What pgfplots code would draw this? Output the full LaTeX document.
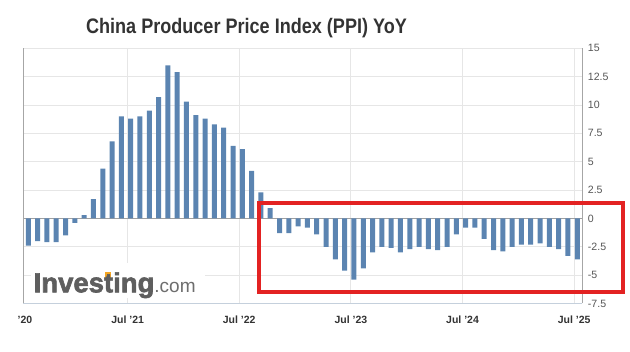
\documentclass[border=0pt]{standalone}
\usepackage{pgfplots}
\pgfplotsset{compat=1.18}
\usepackage{fontspec}
\setmainfont{Liberation Sans}
\newfontfamily\logofont[BoldFeatures={FakeBold=2.2}]{Liberation Sans}
\definecolor{barblue}{HTML}{5B84B1}
\definecolor{gridc}{HTML}{E6E6E6}
\definecolor{axgray}{HTML}{A6A6A6}
\definecolor{botline}{HTML}{C5D0DC}
\definecolor{zeroc}{HTML}{A0A0A0}
\definecolor{titlec}{HTML}{333333}
\definecolor{ytc}{HTML}{555555}
\definecolor{boxred}{HTML}{E32222}
\definecolor{logogray}{HTML}{5E5E5E}
\definecolor{comgray}{HTML}{6E6E6E}
\definecolor{logoorange}{HTML}{F5A623}
\begin{document}
\begin{tikzpicture}[x=1pt,y=1pt]
\useasboundingbox (0,0) rectangle (630,352);
\begin{axis}[
  at={(23.3pt,48.5pt)}, anchor=south west,
  scale only axis, width=558.7pt, height=255.2pt,
  xmin=-0.54, xmax=59.51, ymin=-7.5, ymax=15,
  axis line style={draw=none},
  xtick={10.67,22.67,34.67,46.67,58.67},
  xticklabels={Jul '21,Jul '22,Jul '23,Jul '24,Jul '25},
  ytick={-7.5,-5,-2.5,0,2.5,5,7.5,10,12.5,15},
  yticklabels={-7.5,-5,-2.5,0,2.5,5,7.5,10,12.5,15},
  yticklabel pos=right,
  major tick length=0pt,
  xmajorgrids, ymajorgrids,
  grid style={gridc, line width=0.8pt},
  xticklabel style={anchor=base, yshift=-20.5pt, inner sep=0pt, font=\bfseries\fontsize{10.5}{10.5}\selectfont, text=titlec},
  yticklabel style={anchor=west, xshift=5.7pt, inner sep=0pt, font=\fontsize{10.6}{10.6}\selectfont, text=ytc},
  clip=false,
]
\draw[zeroc, line width=0.9pt] (axis cs:-0.54,0) -- (axis cs:59.51,0);
\addplot[ybar, bar width=5pt, bar shift=0pt, fill=barblue, draw=none] coordinates {
(0,-2.4) (1,-2.0) (2,-2.1) (3,-2.1) (4,-1.5) (5,-0.4)
(6,0.3) (7,1.7) (8,4.4) (9,6.8) (10,9.0) (11,8.8) (12,9.0) (13,9.5) (14,10.7) (15,13.5) (16,12.9) (17,10.3)
(18,9.1) (19,8.8) (20,8.3) (21,8.0) (22,6.4) (23,6.1) (24,4.2) (25,2.3) (26,0.9) (27,-1.3) (28,-1.3) (29,-0.7)
(30,-0.8) (31,-1.4) (32,-2.5) (33,-3.6) (34,-4.6) (35,-5.4) (36,-4.4) (37,-3.0) (38,-2.5) (39,-2.6) (40,-3.0) (41,-2.7)
(42,-2.5) (43,-2.7) (44,-2.8) (45,-2.5) (46,-1.4) (47,-0.8) (48,-0.8) (49,-1.8) (50,-2.8) (51,-2.9) (52,-2.5) (53,-2.3)
(54,-2.3) (55,-2.2) (56,-2.5) (57,-2.7) (58,-3.3) (59,-3.6)
};
\draw[axgray, line width=0.9pt] (rel axis cs:0,0) -- (rel axis cs:0,1);
\draw[axgray, line width=0.9pt] (rel axis cs:1,0) -- (rel axis cs:1,1);
\draw[botline, line width=0.9pt] (rel axis cs:0,0) -- (rel axis cs:1,0);
\node[anchor=base, inner sep=0pt, font=\bfseries\fontsize{10.5}{10.5}\selectfont, text=titlec] at ([yshift=-20.5pt]axis cs:-1.33,-7.5) {\phantom{Jul }'20};
\end{axis}
% title
\node[anchor=base, inner sep=0pt, text=titlec, font=\bfseries\fontsize{21}{21}\selectfont] at (246.5,318.5) {\scalebox{0.86}[1]{China Producer Price Index (PPI) YoY}};
% watermark
\fill[white] (31,54) rectangle (205,89);
\node[anchor=base west, inner sep=0pt] at (33.5,59.7) {{\logofont\bfseries\fontsize{27.5}{27.5}\selectfont\color{logogray}Inves\rlap{\hspace{0.05em}\textcolor{logoorange}{\rule[0.5em]{0.2em}{0.22em}}}ting}{\fontsize{19}{19}\selectfont\color{comgray}.com}};
% red box
\draw[boxred, line width=4pt] (258.5,60.3) rectangle (622.5,148.5);
\end{tikzpicture}
\end{document}
